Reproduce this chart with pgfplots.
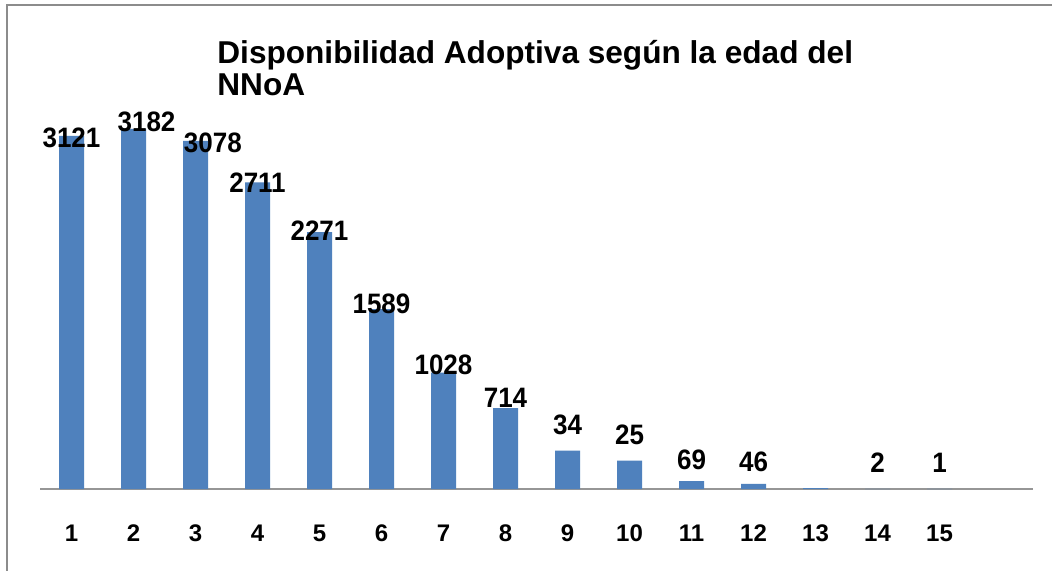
\documentclass[border=0pt]{standalone}
\usepackage{fontspec}
\setmainfont{Liberation Sans}
\usepackage{pgfplots}
\pgfplotsset{compat=1.18}
\usepackage{pgfplotstable}
\definecolor{barblue}{RGB}{79,129,189}
\definecolor{axgrey}{RGB}{150,150,150}
\definecolor{bordergrey}{RGB}{140,140,140}

\pgfplotstableread{
x  y
1  3121
2  3182
3  3078
4  2711
5  2271
6  1589
7  1028
8  714
9  340
10 250
11 69
12 46
13 8
14 2
15 1
}\bars

\pgfplotstableread{
x     y     lab
1     3102  3121
2.21  3244  3182
3.28  3058  3078
4     2705  2711
5     2280  2271
6     1635  1589
7     1096  1028
8     804   714
9     566   34
10    477   25
11    256   69
12    239   46
14    230   2
15    230   1
}\labels

\begin{document}
\begin{tikzpicture}
\path[use as bounding box] (-20.25pt,-40.5pt) rectangle (505.75pt,244.5pt);
\fill[white] (-20.25pt,-40.5pt) rectangle (505.75pt,244.5pt);
\draw[bordergrey, line width=1pt] (-16.75pt,-41pt) -- (-16.75pt,242pt) -- (506pt,242pt);
\begin{axis}[
  at={(0,0)}, anchor=south west,
  scale only axis,
  width=496pt, height=198pt,
  xmin=0.5, xmax=16.5,
  ymin=0, ymax=3500,
  axis y line=none,
  axis x line*=bottom,
  x axis line style={axgrey, line width=0.8pt, -},
  xtick={1,...,15},
  xticklabels={1,2,3,4,5,6,7,8,9,10,11,12,13,14,15},
  major tick length=0pt,
  xticklabel style={font=\fontsize{12}{14}\selectfont\bfseries, anchor=center, yshift=-22pt},
  /pgf/number format/assume math mode=true,
  clip=false,
]
\addplot[ybar, bar width=12.5pt, fill=barblue, draw=none] table[x=x,y=y] {\bars};
\addplot[only marks, mark=none,
  nodes near coords,
  point meta=explicit symbolic,
  every node near coord/.style={anchor=center, font=\fontsize{13}{15}\selectfont\bfseries, inner sep=0pt, yscale=1.08}]
  table[x=x, y=y, meta=lab] {\labels};
\end{axis}
\node[anchor=base west, font=\fontsize{15.8}{18}\selectfont\bfseries, inner sep=0pt] at (88.25pt,213pt) {Disponibilidad Adoptiva según la edad del};
\node[anchor=base west, font=\fontsize{15.8}{18}\selectfont\bfseries, inner sep=0pt] at (88.25pt,197pt) {NNoA};
\end{tikzpicture}
\end{document}
